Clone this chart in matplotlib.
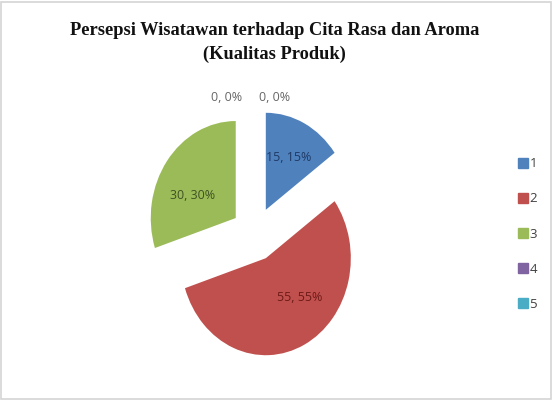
import matplotlib
matplotlib.use("Agg")
import matplotlib.pyplot as plt
from matplotlib.patches import Rectangle
from matplotlib.lines import Line2D

categories = ["1", "2", "3", "4", "5"]
values = [15, 55, 30, 0, 0]
percents = [15, 55, 30, 0, 0]
colors = ["#4F81BD", "#C0504D", "#9BBB59", "#8064A2", "#4BACC6"]
label_colors = ["#1F3A66", "#6E1A18", "#3E5221", "#666666", "#666666"]
title_text = "Persepsi Wisatawan terhadap Cita Rasa dan Aroma\n(Kualitas Produk)"

W, H = 553, 400
fig = plt.figure(figsize=(W / 100, H / 100), dpi=100)

# axes: 1 data unit = 85 px horizontally, 97 px vertically; center at (255, 234) px
cx, cy, rx, ry, L = 255, 234, 85, 97, 1.5
ax = fig.add_axes([(cx - L * rx) / W, (H - cy - L * ry) / H, 2 * L * rx / W, 2 * L * ry / H])

nz = [v for v in values if v > 0]
nz_colors = [c for v, c in zip(values, colors) if v > 0]
wedges, _ = ax.pie(nz, colors=nz_colors, startangle=90, counterclock=False,
                   explode=[0.28] * len(nz), radius=1.0,
                   wedgeprops=dict(linewidth=0))
ax.set_aspect("auto")
ax.set_xlim(-L, L)
ax.set_ylim(-L, L)
ax.axis("off")

# data labels (value, percent) for each slice
label_pos = {0: (0.40, 0.79), 1: (0.53, -0.65), 2: (-0.74, 0.40), 3: (-0.33, 1.41), 4: (0.23, 1.41)}
for i, (v, p) in enumerate(zip(values, percents)):
    x, y = label_pos[i]
    ax.text(x, y, f"{v}, {p}%", ha="center", va="center", fontsize=9,
            family="Open Sans", color=label_colors[i])

fig.text(0.497, 0.894, title_text, ha="center", va="center", fontsize=13.2,
         family="Liberation Serif", weight="bold", linespacing=1.45, color="#111111")

handles = [Line2D([0], [0], marker="s", linestyle="", markersize=7,
                  markerfacecolor=c, markeredgecolor=c) for c in colors]
fig.legend(handles, categories, loc="center left", bbox_to_anchor=(0.917, 0.415),
           frameon=False, handlelength=0.6, handletextpad=0.2, labelspacing=1.68,
           prop=dict(family="Open Sans", size=9.5), labelcolor="#404040")

fig.patches.append(Rectangle((0.002, 0.002), 0.994, 0.994, transform=fig.transFigure,
                             fill=False, edgecolor="#d4d4d4", linewidth=1.2))

fig.savefig("out.png", dpi=100)
